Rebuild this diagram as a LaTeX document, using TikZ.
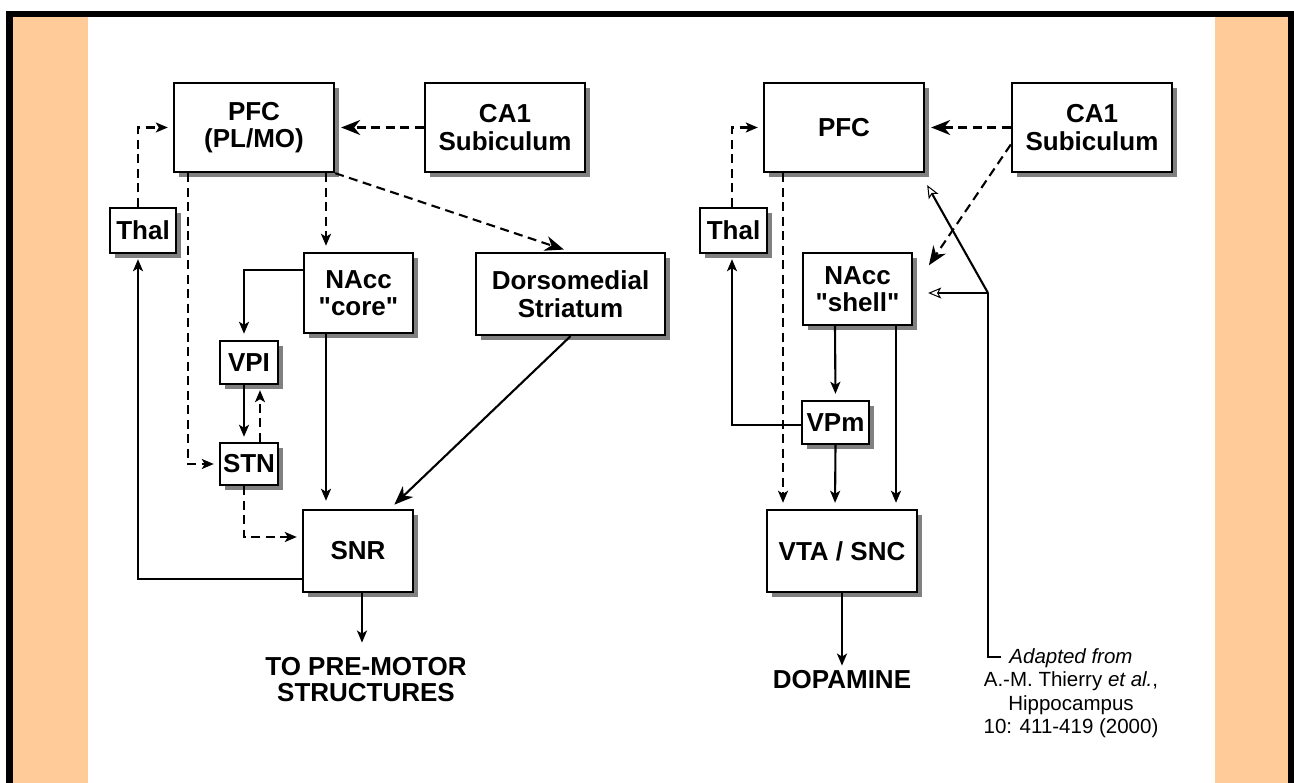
\documentclass[tikz,border=0pt]{standalone}
\usepackage{fontspec}
\setmainfont{Liberation Sans}[Ligatures=TeXOff]
\usetikzlibrary{arrows.meta,shadows}
\definecolor{peach}{HTML}{FFCC99}
\begin{document}
\begin{tikzpicture}[x=1pt,y=-1pt,
  box/.style={draw,line width=2.4pt,fill=white,align=center,inner sep=0pt,
    font=\bfseries\fontsize{26}{27.5}\selectfont,
    drop shadow={shadow xshift=5pt,shadow yshift=-5pt,fill=black!50,opacity=1}},
  lbl/.style={align=center,inner sep=0pt,font=\bfseries\fontsize{26}{26}\selectfont},
  con/.style={line width=2.1pt},
  dsh/.style={con,dash pattern=on 9pt off 5.5pt},
  big/.style={-{Stealth[length=19pt,width=15pt,inset=6pt]}},
  sm/.style={-{Stealth[length=12pt,width=10pt,inset=3pt]}},
  op/.style={-{Stealth[open,length=13pt,width=11pt,inset=3pt,line width=1pt,fill=white]}}]
\useasboundingbox (0,0) rectangle (1294,783);
% frame
\fill[white] (0,0) rectangle (1294,783);
\fill[black] (6,11) rectangle (1294,17);
\fill[black] (6,11) rectangle (13,783);
\fill[black] (1288,11) rectangle (1294,783);
\fill[peach] (13,17) rectangle (88,783);
\fill[peach] (1215,17) rectangle (1288,783);
% left nodes
\node[box,minimum width=160pt,minimum height=89pt] (pfcL) at (254,127.5) {PFC\\(PL/MO)};
\node[box,minimum width=160pt,minimum height=89pt] (caL) at (505,127.5) {CA1\\Subiculum};
\node[box,minimum width=66pt,minimum height=45pt] (thalL) at (143,230.5) {Thal};
\node[box,minimum width=109pt,minimum height=80pt] (nacL) at (358.5,293) {NAcc\\"core"};
\node[box,minimum width=189pt,minimum height=82pt] (dms) at (570.5,294) {Dorsomedial\\Striatum};
\node[box,minimum width=58pt,minimum height=43pt] (vpi) at (249,362.5) {VPI};
\node[box,minimum width=58pt,minimum height=42pt] (stn) at (249,464) {STN};
\node[box,minimum width=110pt,minimum height=82pt] (snr) at (358,551) {SNR};
\node[lbl] (toTxt) at (366,680) {TO PRE-MOTOR\\STRUCTURES};
% right nodes
\node[box,minimum width=160pt,minimum height=89pt] (pfcR) at (844,127.5) {PFC};
\node[box,minimum width=160pt,minimum height=89pt] (caR) at (1092,127.5) {CA1\\Subiculum};
\node[box,minimum width=67pt,minimum height=45pt] (thalR) at (733.5,230.5) {Thal};
\node[box,minimum width=109pt,minimum height=72pt] (shell) at (857.5,289) {NAcc\\"shell"};
\node[box,minimum width=67pt,minimum height=43pt] (vpm) at (835.5,422.5) {VPm};
\node[box,minimum width=150pt,minimum height=82pt] (vta) at (842,551) {VTA / SNC};
\node[lbl] (dopa) at (842,680) {DOPAMINE};
\node[align=center,inner sep=0pt,font=\fontsize{20.5}{23.5}\selectfont] (cite) at (1071,693)
  {\itshape Adapted from\\A.-M. Thierry \textit{et al.},\\Hippocampus\\10: 411-419 (2000)};
% left connectors
\draw[dsh,sm,shorten >=5pt] ([xshift=-5pt]thalL.north) |- (pfcL.west);
\draw[dsh,big,shorten >=6pt] (caL.west) -- (pfcL.east);
\draw[dsh,sm,shorten >=6pt] ([xshift=72pt]pfcL.south) -- ([xshift=-32.5pt]nacL.north);
\draw[dsh,big,shorten >=7pt] (pfcL.south east) -- (dms.north);
\draw[dsh,sm,shorten >=5pt] ([xshift=-66pt]pfcL.south) |- (stn.west);
\draw[con,sm,shorten >=6pt] ([yshift=23pt]nacL.west) -| ([xshift=-5pt]vpi.north);
\draw[con,sm,shorten >=8pt] ([xshift=-32.5pt]nacL.south) -- ([xshift=-32pt]snr.north);
\draw[con,big,shorten >=6pt] (dms.south) -- ([xshift=32pt]snr.north);
\draw[con,sm,shorten >=5pt] ([xshift=-5pt]vpi.south) -- ([xshift=-5pt]stn.north);
\draw[dsh,sm,shorten >=5pt] ([xshift=11pt]stn.north) -- ([xshift=11pt]vpi.south);
\draw[dsh,sm,shorten >=5pt] ([xshift=-5pt]stn.south) |- ([yshift=14pt]snr.west);
\draw[con,sm,shorten >=5pt] ([yshift=-28pt]snr.west) -| ([xshift=-5pt]thalL.south);
\draw[con,sm,shorten >=15pt] ([xshift=4pt]snr.south) -- ([xshift=-4pt]toTxt.north);
% right connectors
\draw[dsh,sm,shorten >=5pt] ([xshift=-1.5pt]thalR.north) |- (pfcR.west);
\draw[dsh,big,shorten >=6pt] (caR.west) -- (pfcR.east);
\draw[dsh,big,shorten >=3pt] ([yshift=-17pt]caR.west) -- ([xshift=14pt,yshift=-16pt]shell.north east);
\draw[dsh,sm,shorten >=6pt] ([xshift=-61pt]pfcR.south) -- ([xshift=-59pt]vta.north);
\draw[con,sm,shorten >=6pt] ([xshift=-22.5pt]shell.south) -- (vpm.north);
\draw[con,sm,shorten >=6pt] ([xshift=38.5pt]shell.south) -- ([xshift=54pt]vta.north);
\draw[con,sm,shorten >=6pt] (vpm.south) -- ([xshift=-7pt]vta.north);
\draw[con,sm,shorten >=5pt] ([yshift=-2.5pt]vpm.west) -| ([xshift=-1.5pt]thalR.south);
\draw[con,sm,shorten >=5pt] (vta.south) -- (dopa.north);
\coordinate (J) at (988,293);
\coordinate (K) at (1001,657);
\draw[con] (K) -| (J);
\draw[con,op] (J) -- ([xshift=15pt,yshift=-4pt]shell.east);
\draw[con,op] (J) -- ([xshift=2pt,yshift=-12pt]pfcR.south east);
\end{tikzpicture}
\end{document}
